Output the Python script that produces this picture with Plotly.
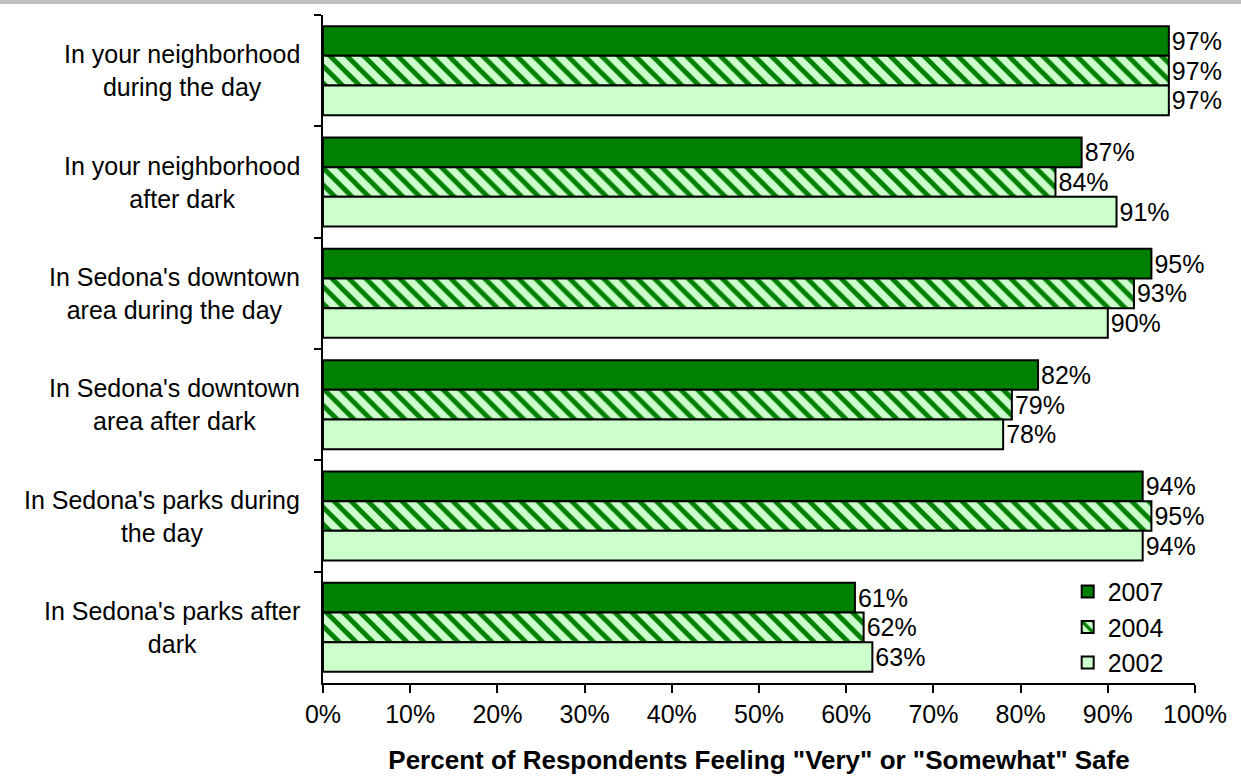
import plotly.graph_objects as go

categories = [
    "In your neighborhood<br>during the day",
    "In your neighborhood<br>after dark",
    "In Sedona's downtown<br>area during the day",
    "In Sedona's downtown<br>area after dark",
    "In Sedona's parks during<br>the day",
    "In Sedona's parks after<br>dark",
]
years = ["2007", "2004", "2002"]
v2007 = [97, 87, 95, 82, 94, 61]
v2004 = [97, 84, 93, 79, 95, 62]
v2002 = [97, 91, 90, 78, 94, 63]
x_ticks = list(range(0, 101, 10))

FONT = "Liberation Sans, Arial, sans-serif"
FS = 25
DARK = "#008000"
LIGHT = "#ccffcc"

fig = go.Figure()
for name, vals in zip(years, [v2007, v2004, v2002]):
    if name == "2007":
        marker = dict(color=DARK, line=dict(color="black", width=2))
    elif name == "2004":
        marker = dict(color=LIGHT, line=dict(color="black", width=2),
                      pattern=dict(shape="\\", fgcolor=DARK, bgcolor=LIGHT,
                                   size=12, solidity=0.4, fillmode="replace"))
    else:
        marker = dict(color=LIGHT, line=dict(color="black", width=2))
    fig.add_trace(go.Bar(
        y=categories, x=vals, name=name, orientation="h",
        marker=marker,
        text=[f"{v}%" for v in vals], textposition="outside",
        textfont=dict(family=FONT, size=FS, color="black"),
        cliponaxis=False,
    ))

# category labels: right-aligned block, lines centered
for cat in categories:
    fig.add_annotation(
        x=-0.024, xref="paper", y=cat, yref="y",
        text=cat, showarrow=False, xanchor="right", align="center",
        font=dict(family=FONT, size=FS, color="black"),
    )

fig.add_shape(type="line", xref="paper", yref="paper",
              x0=-0.371, x1=1.053, y0=1.0195, y1=1.0195,
              line=dict(color="#c0c0c0", width=4))

fig.update_layout(
    width=1241, height=782,
    margin=dict(l=323, r=46, t=15, b=97),
    plot_bgcolor="white", paper_bgcolor="white",
    barmode="group", bargap=0.2, bargroupgap=0,
    font=dict(family=FONT, size=FS, color="black"),
    showlegend=True,
    legend=dict(x=0.854, y=0.171, xanchor="left", yanchor="top",
                font=dict(family=FONT, size=FS, color="black"),
                bgcolor="rgba(0,0,0,0)", tracegroupgap=0,
                itemwidth=30),
    xaxis=dict(range=[0, 100], tickvals=x_ticks,
               ticktext=[f"{t}%" for t in x_ticks],
               showline=True, linecolor="black", linewidth=2,
               ticks="outside", ticklen=8, tickwidth=2, tickcolor="black",
               showgrid=False, zeroline=False,
               tickfont=dict(family=FONT, size=FS),
               title=dict(text="<b>Percent of Respondents Feeling \"Very\" or \"Somewhat\" Safe</b>",
                          font=dict(family=FONT, size=26), standoff=24)),
    yaxis=dict(autorange="reversed", showticklabels=False,
               showline=True, linecolor="black", linewidth=2,
               ticks="outside", ticklen=7, tickwidth=2, tickcolor="black",
               tickson="boundaries", showgrid=False, zeroline=False),
)

fig.write_html("out.html")
